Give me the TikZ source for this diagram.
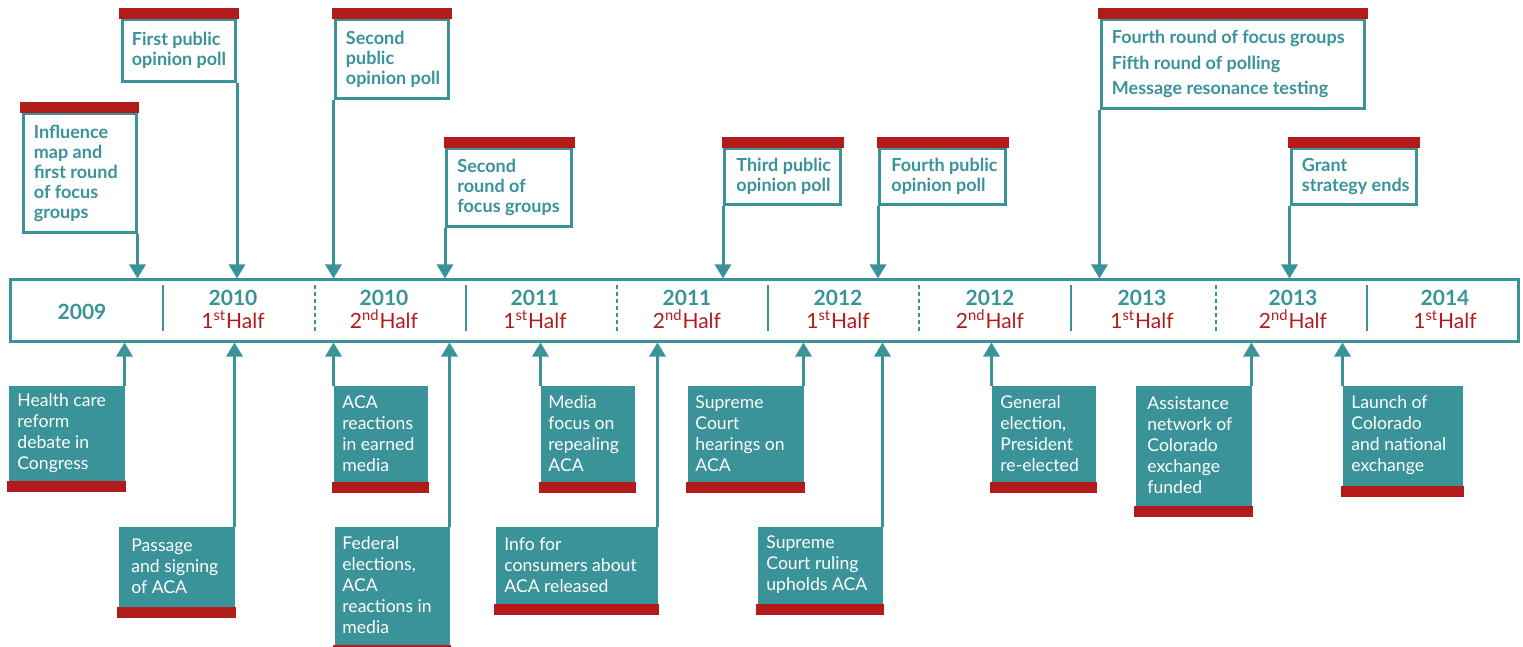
\documentclass[tikz,border=0pt]{standalone}
\usepackage{fontspec}
\setmainfont{Lato}
\usetikzlibrary{arrows.meta}
\definecolor{brandteal}{HTML}{3A9399}
\definecolor{brandred}{HTML}{B31B1B}
\tikzset{
  timebar/.style={draw=brandteal, line width=1.5pt, anchor=north west, inner sep=0},
  topbox/.style={draw=brandteal, fill=white, line width=1.5pt, anchor=north west, inner sep=0},
  botbox/.style={draw=brandteal, fill=brandteal, line width=1.5pt, anchor=north west, inner sep=0},
  barred/.style={fill=brandred},
  toplabel/.style={anchor=west, align=left, inner sep=0, text=brandteal, font=\bfseries\fontsize{9}{10}\selectfont},
  botlabel/.style={anchor=west, align=left, inner sep=0, text=white, font=\fontsize{8.8}{10.5}\selectfont},
  period/.style={align=center, inner sep=0, text=brandteal, font=\fontsize{10.5}{11.5}\selectfont},
  divider/.style={draw=brandteal, line width=1pt},
  link/.style={draw=brandteal, line width=1.5pt, -{Triangle[width=8pt,length=7pt]}},
}

\begin{document}
\begin{tikzpicture}[x=0.5pt, y=-0.5pt]
    \useasboundingbox (0,0) rectangle (1523,647);
    % timeline
    \node[timebar, minimum width=754pt, minimum height=30.5pt] (bar) at (8.5,278.5) {};
    \foreach \x in {163,466,768,1071,1367}
        \draw[divider] (\x,285) -- (\x,331);
    \foreach \x in {315,617,919,1216}
        \draw[divider, dash pattern=on 2pt off 1.5pt] (\x,285) -- (\x,331);
    \node[period, font=\bfseries\fontsize{10.5}{11.5}\selectfont] (p2009) at (82,312) {2009};
    \foreach \x/\yr/\n/\s in {233/2010/1/st, 384/2010/2/nd, 535/2011/1/st, 687/2011/2/nd,
        838/2012/1/st, 990/2012/2/nd, 1142/2013/1/st, 1293/2013/2/nd, 1445/2014/1/st}
        \node[period] (p\yr\s) at (\x,309) {{\bfseries\yr}\\{\color{brandred}\n\textsuperscript{\s}Half}};
    % events above
    \node[topbox, minimum width=56.5pt, minimum height=59.5pt] (infl) at (21.5,112) {};
    \fill[barred] ([shift={(-0.75pt,-0.75pt)}]infl.north west) rectangle ([shift={(0.75pt,5pt)}]infl.north east);
    \node[toplabel] (infl-text) at ([xshift=6pt]infl.west) {Influence\\map and\\first round\\of focus\\groups};
    \node[topbox, minimum width=56.75pt, minimum height=31pt] (poll1) at (120.5,18) {};
    \fill[barred] ([shift={(-0.75pt,-0.75pt)}]poll1.north west) rectangle ([shift={(0.75pt,5pt)}]poll1.north east);
    \node[toplabel] (poll1-text) at ([xshift=5.5pt]poll1.west) {First public\\opinion poll};
    \node[topbox, minimum width=56.75pt, minimum height=39.5pt] (poll2) at (333.5,18) {};
    \fill[barred] ([shift={(-0.75pt,-0.75pt)}]poll2.north west) rectangle ([shift={(0.75pt,5pt)}]poll2.north east);
    \node[toplabel] (poll2-text) at ([xshift=6pt]poll2.west) {Second\\public\\opinion poll};
    \node[topbox, minimum width=62.5pt, minimum height=39pt] (focus2) at (445,147) {};
    \fill[barred] ([shift={(-0.75pt,-0.75pt)}]focus2.north west) rectangle ([shift={(0.75pt,5pt)}]focus2.north east);
    \node[toplabel] (focus2-text) at ([xshift=6pt]focus2.west) {Second\\round of\\focus groups};
    \node[topbox, minimum width=58pt, minimum height=28pt] (poll3) at (723,147) {};
    \fill[barred] ([shift={(-0.75pt,-0.75pt)}]poll3.north west) rectangle ([shift={(0.75pt,5pt)}]poll3.north east);
    \node[toplabel] (poll3-text) at ([xshift=6.5pt]poll3.west) {Third public\\opinion poll};
    \node[topbox, minimum width=63pt, minimum height=28pt] (poll4) at (878,147) {};
    \fill[barred] ([shift={(-0.75pt,-0.75pt)}]poll4.north west) rectangle ([shift={(0.75pt,5pt)}]poll4.north east);
    \node[toplabel] (poll4-text) at ([xshift=6.5pt]poll4.west) {Fourth public\\opinion poll};
    \node[topbox, minimum width=131.75pt, minimum height=44.5pt] (round4) at (1099.5,18) {};
    \fill[barred] ([shift={(-0.75pt,-0.75pt)}]round4.north west) rectangle ([shift={(0.75pt,5pt)}]round4.north east);
    \node[toplabel, font=\bfseries\fontsize{9}{12.75}\selectfont] (round4-text) at ([xshift=6pt]round4.west) {Fourth round of focus groups\\Fifth round of polling\\Message resonance testing};
    \node[topbox, minimum width=62.75pt, minimum height=28pt] (grant) at (1289.5,147) {};
    \fill[barred] ([shift={(-0.75pt,-0.75pt)}]grant.north west) rectangle ([shift={(0.75pt,5pt)}]grant.north east);
    \node[toplabel] (grant-text) at ([xshift=6pt]grant.west) {Grant\\strategy ends};
    % events below
    \node[botbox, minimum width=56.5pt, minimum height=46pt] (hc) at (8.5,385.5) {};
    \fill[barred] ([xshift=-0.75pt]hc.south west) rectangle ([shift={(0.75pt,-5.75pt)}]hc.south east);
    \node[botlabel] (hc-text) at ([xshift=4.25pt]hc.west) {Health care\\reform\\debate in\\Congress};
    \node[botbox, minimum width=56.5pt, minimum height=38.5pt] (pass) at (118.5,526.5) {};
    \fill[barred] ([xshift=-0.75pt]pass.south west) rectangle ([shift={(0.75pt,-5.75pt)}]pass.south east);
    \node[botlabel] (pass-text) at ([xshift=6.25pt]pass.west) {Passage\\and signing\\of ACA};
    \node[botbox, minimum width=45.5pt, minimum height=46.5pt] (earned) at (333.5,385.5) {};
    \fill[barred] ([xshift=-0.75pt]earned.south west) rectangle ([shift={(0.75pt,-5.75pt)}]earned.south east);
    \node[botlabel] (earned-text) at ([xshift=4.25pt]earned.west) {ACA\\reactions\\in earned\\media};
    \node[botbox, minimum width=56pt, minimum height=57.5pt] (fed) at (334.5,526.5) {};
    \fill[barred] ([xshift=-0.75pt]fed.south west) rectangle ([shift={(0.75pt,-5.75pt)}]fed.south east);
    \node[botlabel] (fed-text) at ([xshift=3.75pt]fed.west) {Federal\\elections,\\ACA\\reactions in\\media};
    \node[botbox, minimum width=45.5pt, minimum height=46.5pt] (media) at (540.5,385.5) {};
    \fill[barred] ([xshift=-0.75pt]media.south west) rectangle ([shift={(0.75pt,-5.75pt)}]media.south east);
    \node[botlabel] (media-text) at ([xshift=3.75pt]media.west) {Media\\focus on\\repealing\\ACA};
    \node[botbox, minimum width=79.5pt, minimum height=37pt] (info) at (495.5,526.5) {};
    \fill[barred] ([xshift=-0.75pt]info.south west) rectangle ([shift={(0.75pt,-5.75pt)}]info.south east);
    \node[botlabel] (info-text) at ([xshift=4.25pt]info.west) {Info for\\consumers about\\ACA released};
    \node[botbox, minimum width=56.5pt, minimum height=46.5pt] (hear) at (687.5,385.5) {};
    \fill[barred] ([xshift=-0.75pt]hear.south west) rectangle ([shift={(0.75pt,-5.75pt)}]hear.south east);
    \node[botlabel] (hear-text) at ([xshift=3.75pt]hear.west) {Supreme\\Court\\hearings on\\ACA};
    \node[botbox, minimum width=61pt, minimum height=37pt] (ruling) at (757.5,526.5) {};
    \fill[barred] ([xshift=-0.75pt]ruling.south west) rectangle ([shift={(0.75pt,-5.75pt)}]ruling.south east);
    \node[botlabel] (ruling-text) at ([xshift=4.25pt]ruling.west) {Supreme\\Court ruling\\upholds ACA};
    \node[botbox, minimum width=50.5pt, minimum height=46.5pt] (gen) at (991.5,385.5) {};
    \fill[barred] ([xshift=-0.75pt]gen.south west) rectangle ([shift={(0.75pt,-5.75pt)}]gen.south east);
    \node[botlabel] (gen-text) at ([xshift=4.25pt]gen.west) {General\\election,\\President\\re-elected};
    \node[botbox, minimum width=56.5pt, minimum height=58.5pt] (assist) at (1135.5,385.5) {};
    \fill[barred] ([xshift=-0.75pt]assist.south west) rectangle ([shift={(0.75pt,-5.75pt)}]assist.south east);
    \node[botlabel] (assist-text) at ([xshift=5.75pt]assist.west) {Assistance\\network of\\Colorado\\exchange\\funded};
    \node[botbox, minimum width=58.5pt, minimum height=48.5pt] (launch) at (1342.5,385.5) {};
    \fill[barred] ([xshift=-0.75pt]launch.south west) rectangle ([shift={(0.75pt,-5.75pt)}]launch.south east);
    \node[botlabel] (launch-text) at ([xshift=4.25pt]launch.west) {Launch of\\Colorado\\and national\\exchange};
    % arrows to the timeline
    \draw[link] (infl.south east) -- (infl.south east |- bar.north);
    \draw[link] (poll1.south east) -- (poll1.south east |- bar.north);
    \draw[link] (poll2.south west) -- (poll2.south west |- bar.north);
    \draw[link] (focus2.south west) -- (focus2.south west |- bar.north);
    \draw[link] (poll3.south west) -- (poll3.south west |- bar.north);
    \draw[link] (poll4.south west) -- (poll4.south west |- bar.north);
    \draw[link] (round4.south west) -- (round4.south west |- bar.north);
    \draw[link] (grant.south west) -- (grant.south west |- bar.north);
    \draw[link] (hc.north east) -- (hc.north east |- bar.south);
    \draw[link] (pass.north east) -- (pass.north east |- bar.south);
    \draw[link] (earned.north west) -- (earned.north west |- bar.south);
    \draw[link] (fed.north east) -- (fed.north east |- bar.south);
    \draw[link] (media.north west) -- (media.north west |- bar.south);
    \draw[link] (info.north east) -- (info.north east |- bar.south);
    \draw[link] (hear.north east) -- (hear.north east |- bar.south);
    \draw[link] (ruling.north east) -- (ruling.north east |- bar.south);
    \draw[link] (gen.north west) -- (gen.north west |- bar.south);
    \draw[link] (assist.north east) -- (assist.north east |- bar.south);
    \draw[link] (launch.north west) -- (launch.north west |- bar.south);
\end{tikzpicture}
\end{document}
